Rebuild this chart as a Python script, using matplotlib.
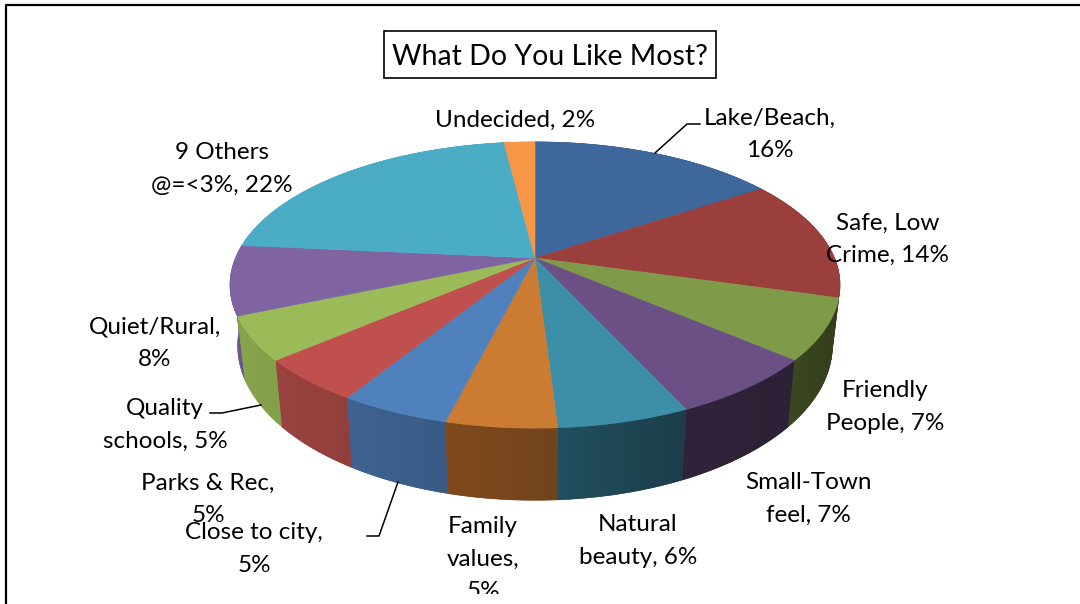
import numpy as np
import matplotlib
matplotlib.use('Agg')
import matplotlib.pyplot as plt
from matplotlib.colors import LinearSegmentedColormap
from matplotlib.patches import Polygon, Rectangle

plt.rcParams['font.family'] = ['Lato', 'DejaVu Sans']

# Datos de la encuesta
names = ['Lake/Beach', 'Safe, Low\nCrime', 'Friendly\nPeople', 'Small-Town\nfeel',
         'Natural\nbeauty', 'Family\nvalues', 'Close to city', 'Parks & Rec',
         'Quality\nschools', 'Quiet/Rural', '9 Others\n@=<3%', 'Undecided']
values = [16, 14, 7, 7, 6, 5, 5, 5, 5, 8, 22, 2]
seps = [',\n', ', ', ', ', ', ', ', ', ',\n', ',\n', ',\n', ', ', ',\n', ', ', ', ']
top_colors = ['#3E689B', '#9B3F3C', '#7F9A48', '#6A5085', '#3D8EA8', '#CC7B33',
              '#4F81BD', '#C0504D', '#9BBB59', '#8064A2', '#4BACC6', '#F79646']
side_light = ['#3E689B', '#9B3F3C', '#3B4820', '#30243B', '#215060', '#80491E',
              '#3F6492', '#9A4340', '#88A54C', '#735A93', '#4BACC6', '#F79646']
side_dark = ['#2E4E75', '#742F2D', '#333E1B', '#2C2135', '#1C3D49', '#72441C',
             '#385A85', '#923F3C', '#829F49', '#6A5288', '#4BACC6', '#F79646']

# Posiciones de las etiquetas (centro x, centro y)
label_pos = [(770, 134), (888, 239), (885, 407), (808, 499), (638, 541), (483, 559),
             (254, 549), (208, 499), (165, 425), (155, 343), (222, 169), (515, 120)]

# Proyeccion del disco en perspectiva
cx, cy = 535, 258
scale_x, scale_y, persp = 299.5, 138, 0.189
depth = 58.5
bottom_shrink = 0.975


def rim(theta):
    u, v = np.sin(theta), np.cos(theta)
    w = 1 + persp * v
    return cx + scale_x * u / w, cy - scale_y * v / w


def base_rim(theta):
    x, y = rim(theta)
    w = 1 + persp * np.cos(theta)
    return cx + bottom_shrink * (x - cx), y + depth / w


fig = plt.figure(figsize=(10.8, 6.04), dpi=100)
ax = fig.add_axes([0, 0, 1, 1])

edges = np.concatenate([[0], np.cumsum(values)]) / np.sum(values) * 2 * np.pi

# Paredes laterales, de atras hacia adelante
order = np.argsort(-np.cos((edges[:-1] + edges[1:]) / 2))
for i in order:
    t = np.linspace(edges[i], edges[i + 1], 80)
    tx, ty = rim(t)
    bx, by = base_rim(t)
    pts = np.vstack([np.column_stack([tx, ty]), np.column_stack([bx, by])[::-1]])
    wall = Polygon(pts, closed=True, fc=side_dark[i], ec=side_dark[i], lw=0.4, zorder=2)
    ax.add_patch(wall)
    cmap = LinearSegmentedColormap.from_list('wall', [side_light[i], side_dark[i]])
    lo, hi = pts[:, 0].min(), pts[:, 0].max()
    img = ax.imshow(np.linspace(0, 1, 64).reshape(1, -1), cmap=cmap, aspect='auto',
                    extent=(lo, hi, pts[:, 1].max(), pts[:, 1].min()), zorder=3)
    img.set_clip_path(wall)

# Cara superior
for i in range(len(values)):
    t = np.linspace(edges[i], edges[i + 1], 120)
    tx, ty = rim(t)
    pts = np.vstack([[cx, cy], np.column_stack([tx, ty])])
    ax.add_patch(Polygon(pts, closed=True, fc=top_colors[i], ec=top_colors[i], lw=0.4, zorder=4))

# Lineas guia
ax.plot([655, 687, 700], [153, 124, 124], color='black', lw=1.1, zorder=5)
ax.plot([210, 222, 261], [413, 413, 405], color='black', lw=1.1, zorder=5)
ax.plot([367, 379, 398], [536, 536, 482], color='black', lw=1.1, zorder=5)

for name, val, sep, (x, y) in zip(names, values, seps, label_pos):
    ax.text(x, y, f'{name}{sep}{val}%', ha='center', va='center', fontsize=17.5,
            linespacing=1.66, color='black', zorder=6)

# Titulo con recuadro
ax.add_patch(Rectangle((384, 31), 332, 47, fc='white', ec='black', lw=1.2, zorder=5))
ax.text(550, 57, 'What Do You Like Most?', ha='center', va='center', fontsize=20.5,
        color='black', zorder=6)

# Borde exterior: solo izquierda y arriba
ax.plot([6, 6, 1080], [604, 5, 5], color='black', lw=1.6, zorder=7)
ax.add_patch(Rectangle((8, 594), 1072, 10, fc='white', ec='none', zorder=6.5))

ax.set_xlim(0, 1080)
ax.set_ylim(604, 0)
ax.axis('off')
fig.savefig('out.png', dpi=100)
